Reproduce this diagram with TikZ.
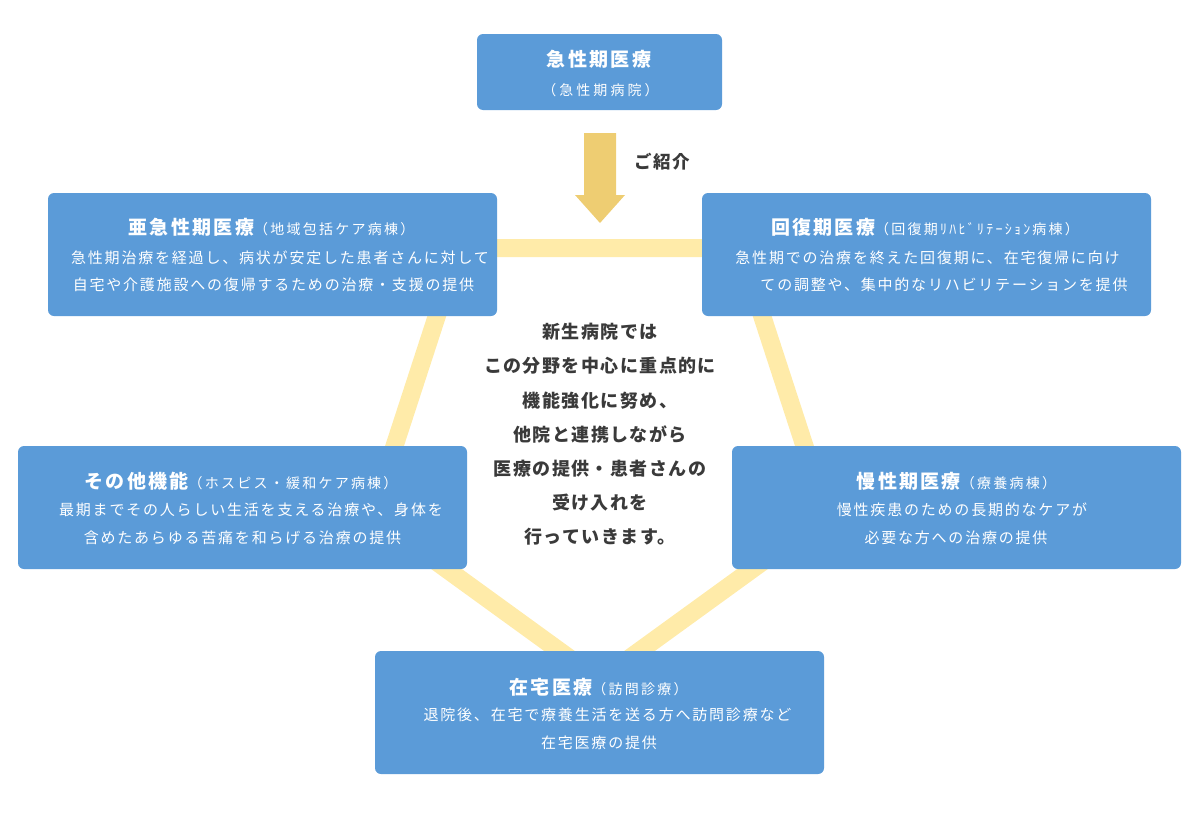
\documentclass[tikz,border=0pt]{standalone}
\usepackage{fontspec}
\newfontfamily\jpbox[LetterSpace=12]{Noto Sans CJK JP}
\newfontfamily\jpsub[LetterSpace=16]{Noto Sans CJK JP}
\newfontfamily\jptop[LetterSpace=22]{Noto Sans CJK JP}
\newfontfamily\jpmid[LetterSpace=8]{Noto Sans CJK JP}
\definecolor{boxblue}{HTML}{5B9BD8}
\definecolor{penyellow}{HTML}{FFEBA9}
\definecolor{arrowgold}{HTML}{EECD72}
\definecolor{darktext}{HTML}{3A3A3A}
\tikzset{
  card/.style={fill=boxblue, draw=none, rounded corners=6pt, inner sep=0pt,
               minimum width=449pt, minimum height=123pt},
  ttl/.style={text=white, inner sep=0pt, anchor=base,
              font=\jpbox\fontsize{19}{22}\selectfont\bfseries},
  sub/.style={text=white, inner sep=0pt, anchor=base,
              font=\jptop\fontsize{14}{16}\selectfont},
  body/.style={text=white, inner sep=0pt, anchor=base,
               font=\jpbox\fontsize{15}{18}\selectfont},
  pent/.style={draw=penyellow, line width=18pt, line join=miter},
}
\newcommand{\subp}[1]{{\jpsub\fontsize{14}{16}\selectfont\mdseries #1}}
\begin{document}
\begin{tikzpicture}[x=1pt,y=-1pt]
\useasboundingbox (0,0) rectangle (1200,817);
% pentagon vertices
\coordinate (TL) at (459,248);
\coordinate (TR) at (740,248);
\coordinate (R) at (827,515);
\coordinate (B) at (599.5,680);
\coordinate (L) at (372,515);
\draw[pent] (TL) -- (TR) -- (R) -- (B) -- (L) -- cycle;

% boxes
\node[card, minimum width=245pt, minimum height=76pt] (top) at (599.5,72) {};
\node[card] (lt) at (272.5,254.5) {};
\node[card] (rt) at (926.5,254.5) {};
\node[card] (lm) at (242.5,507.5) {};
\node[card] (rm) at (956.5,507.5) {};
\node[card] (bt) at (599.5,712.5) {};

% arrow
\coordinate (a1) at (584,133);
\coordinate (a2) at (616,195);
\fill[arrowgold] (a1) -- (a1 -| a2) -- (a2) -- (625,195) -- (600,223) -- (575,195) -- (a2 -| a1) -- cycle;
\node[anchor=base, inner sep=0pt, text=darktext, font=\jpmid\fontsize{17.5}{20}\selectfont\bfseries] (intro) at (662,168.3) {ご紹介};

% top box text
\node[ttl] (topt) at (599,66) {急性期医療};
\node[sub] (tops) at (600.5,95.3) {（急性期病院）};

% left top
\node[ttl] (ltt) at (271.5,234) {亜急性期医療\subp{（地域包括ケア病棟）}};
\node[body] (lt1) at (280,263.7) {急性期治療を経過し、病状が安定した患者さんに対して};
\node[body] (lt2) at (273.5,290.7) {自宅や介護施設への復帰するための治療・支援の提供};

% right top
\node[ttl] (rtt) at (925,234) {回復期医療\subp{（回復期ﾘﾊﾋﾞﾘﾃｰｼｮﾝ病棟）}};
\node[body] (rt1) at (927.5,263.7) {急性期での治療を終えた回復期に、在宅復帰に向け};
\node[body] (rt2) at (944,290.7) {ての調整や、集中的なリハビリテーションを提供};

% left mid
\node[ttl] (lmt) at (241,488) {その他機能\subp{（ホスピス・緩和ケア病棟）}};
\node[body] (lm1) at (251,515.7) {最期までその人らしい生活を支える治療や、身体を};
\node[body] (lm2) at (242.5,543.7) {含めたあらゆる苦痛を和らげる治療の提供};

% right mid
\node[ttl] (rmt) at (956.5,488) {慢性期医療\subp{（療養病棟）}};
\node[body] (rm1) at (962,515.7) {慢性疾患のための長期的なケアが};
\node[body] (rm2) at (956,543.7) {必要な方への治療の提供};

% bottom
\node[ttl] (btt) at (598.5,694) {在宅医療\subp{（訪問診療）}};
\node[body] (bt1) at (607.5,720.7) {退院後、在宅で療養生活を送る方へ訪問診療など};
\node[body] (bt2) at (599,748.7) {在宅医療の提供};

% center message
\node[inner sep=0pt, align=center, text=darktext,
      font=\jpmid\fontsize{18}{34.2}\selectfont\bfseries] (msg) at (600,434.5)
  {新生病院では\\この分野を中心に重点的に\\機能強化に努め、\\他院と連携しながら\\医療の提供・患者さんの\\受け入れを\\行っていきます。};
\end{tikzpicture}
\end{document}
